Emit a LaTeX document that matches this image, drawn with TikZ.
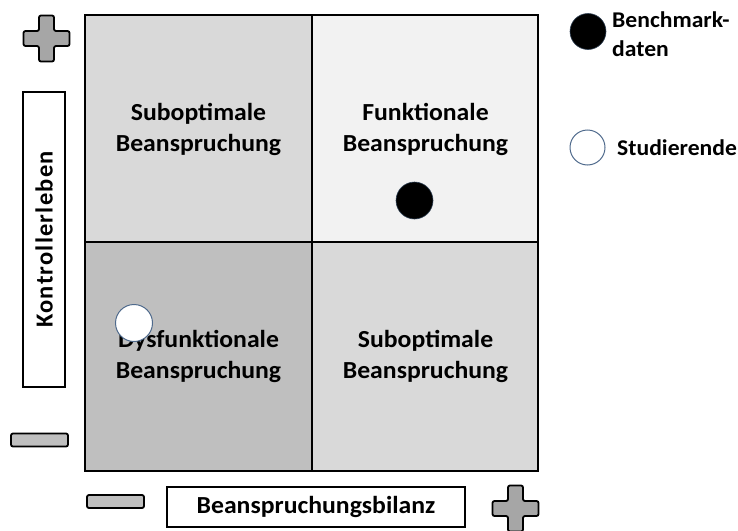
\documentclass[tikz,border=0pt]{standalone}
\usepackage{fontspec}
\setmainfont{Carlito}
\newfontfamily\widecarlito[FakeStretch=1.05]{Carlito}
\newfontfamily\spacedcarlito[LetterSpace=5]{Carlito}
\definecolor{cellA}{HTML}{D9D9D9}
\definecolor{cellB}{HTML}{F2F2F2}
\definecolor{cellC}{HTML}{BFBFBF}
\definecolor{plusfill}{HTML}{A6A6A6}
\definecolor{minusfill}{HTML}{BFBFBF}
\definecolor{ringcol}{HTML}{4F6A8C}
\tikzset{
  celltext/.style={font=\widecarlito\fontsize{24.5}{31}\selectfont\bfseries, align=center, inner sep=0pt, text=black},
  legendtext/.style={font=\widecarlito\fontsize{22.5}{29}\selectfont\bfseries, align=left, inner sep=0pt, text=black},
  labelbox/.style={draw=black, line width=1.5pt, fill=white, font=\widecarlito\fontsize{24.5}{29}\selectfont\bfseries, inner sep=0pt},
  minussign/.style={draw=black, line width=1.8pt, fill=minusfill, rounded corners=2pt, minimum width=57pt, minimum height=13pt, inner sep=0pt},
  blackdot/.style={circle, fill=black, draw=ringcol!60!black, line width=0.6pt, minimum size=37pt, inner sep=0pt},
  whitedot/.style={circle, fill=white, draw=ringcol, line width=1pt, minimum size=37pt, inner sep=0pt},
  plussign/.pic={
    \draw[line width=1.8pt, fill=plusfill, rounded corners=2pt]
      (-7.5,-23) -- (7.5,-23) -- (7.5,-7.5) -- (23,-7.5) -- (23,7.5) -- (7.5,7.5)
      -- (7.5,23) -- (-7.5,23) -- (-7.5,7.5) -- (-23,7.5) -- (-23,-7.5) -- (-7.5,-7.5) -- cycle;
  }
}
\begin{document}
\begin{tikzpicture}[x=1pt, y=-1pt]
\useasboundingbox (0,0) rectangle (738,530);
% cells
\filldraw[fill=cellA, draw=black, line width=1.3pt] (85,15) rectangle (312,242);
\filldraw[fill=cellB, draw=black, line width=1.3pt] (312,15) rectangle (538,242);
\filldraw[fill=cellC, draw=black, line width=1.3pt] (85,242) rectangle (312,471);
\filldraw[fill=cellA, draw=black, line width=1.3pt] (312,242) rectangle (538,471);
\draw[black, line width=2pt] (85,15) rectangle (538,471);
% cell texts
\node[celltext] (tl) at (198.5,129.5) {Suboptimale\\Beanspruchung};
\node[celltext] (tr) at (425.5,129.5) {Funktionale\\Beanspruchung};
\node[celltext] (bl) at (198.5,356.5) {Dysfunktionale\\Beanspruchung};
\node[celltext] (br) at (425.5,356.5) {Suboptimale\\Beanspruchung};
% data points
\node[blackdot] (bench) at (414.5,200.5) {};
\node[whitedot] (stud) at (134,323) {};
% axes labels
\node[labelbox, rotate=90, minimum width=295pt, minimum height=42pt,
      font=\spacedcarlito\fontsize{24.5}{29}\selectfont\bfseries] (ylab) at (44,239.5) {Kontrollerleben};
\node[labelbox, minimum width=298pt, minimum height=40pt] (xlab) at (316,507) {Beanspruchungsbilanz};
% plus / minus signs
\pic at (46.5,38.5) {plussign};
\pic at (515.5,508.5) {plussign};
\node[minussign] (yminus) at (39.5,440) {};
\node[minussign] (xminus) at (115.5,501.5) {};
% legend
\node[blackdot, minimum size=36pt] (legbench) at (588,31.5) {};
\node[legendtext, anchor=west] (legbenchtxt) at (612,34) {Benchmark-\\daten};
\node[whitedot, minimum size=35pt] (legstud) at (587.5,147.5) {};
\node[legendtext, anchor=base west] (legstudtxt) at (617,155) {Studierende};
\end{tikzpicture}
\end{document}
